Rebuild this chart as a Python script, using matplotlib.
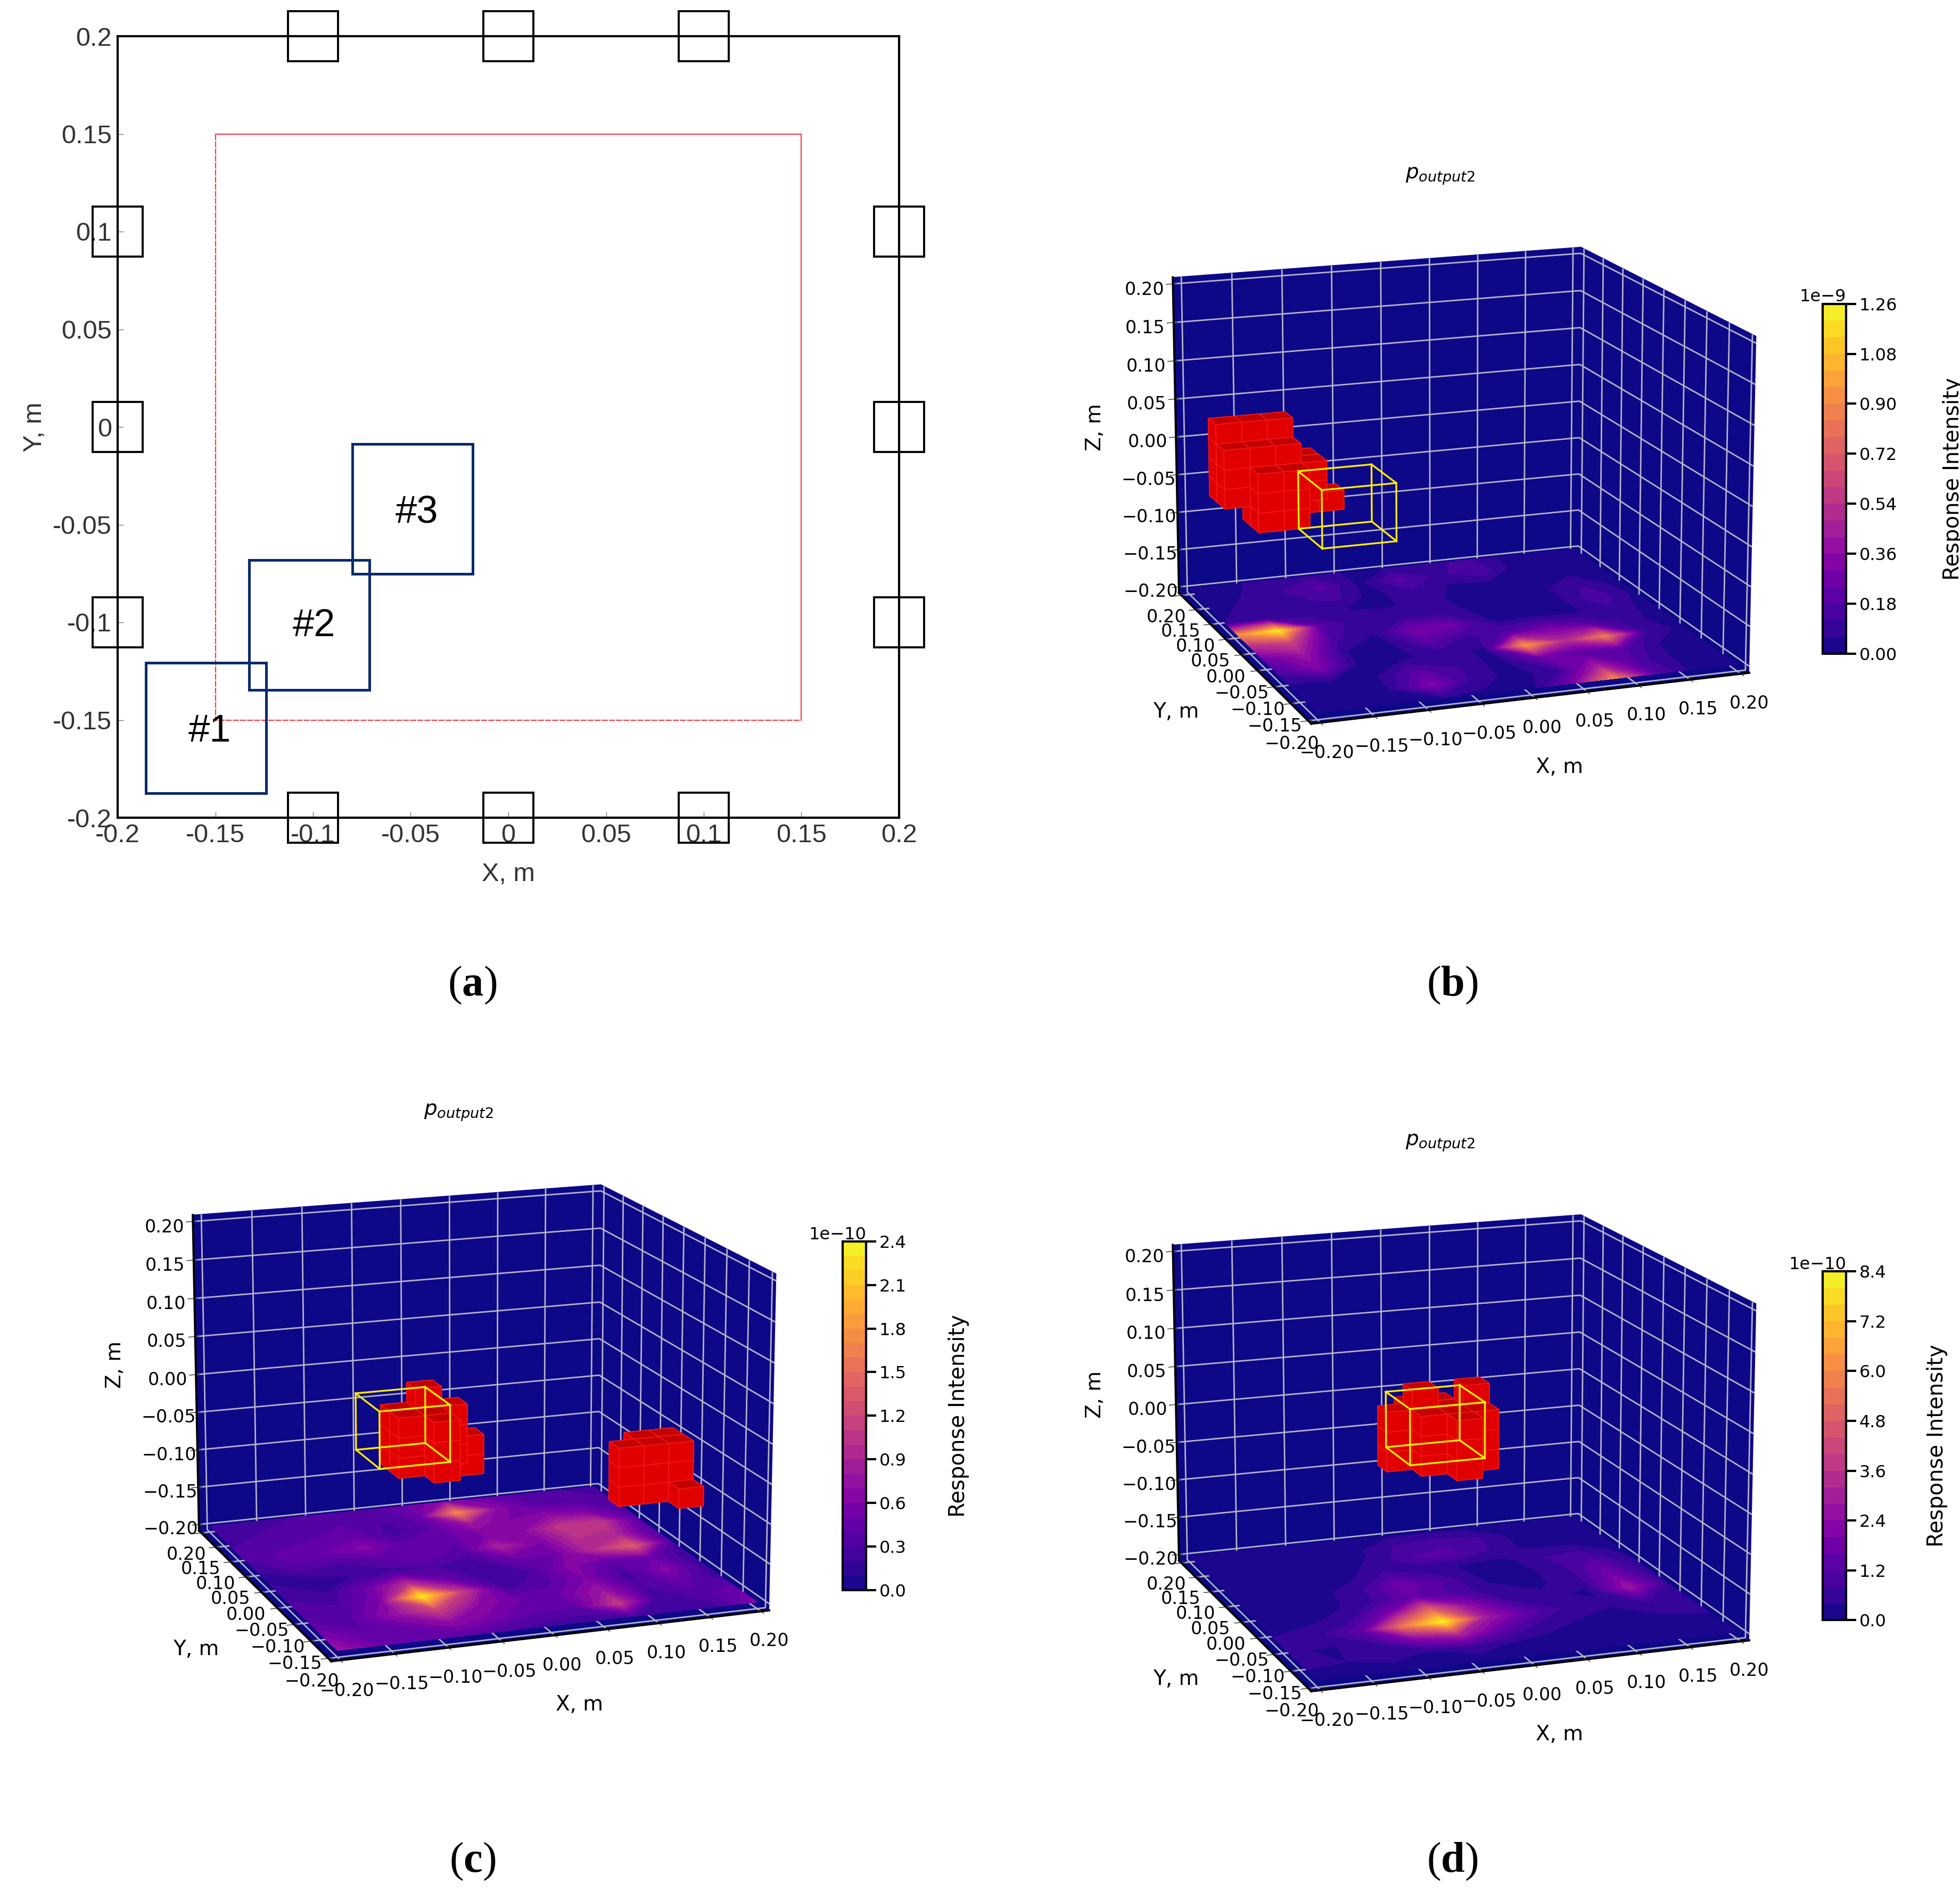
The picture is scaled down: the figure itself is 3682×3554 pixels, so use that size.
import numpy as np
import matplotlib
matplotlib.use('Agg')
import matplotlib.pyplot as plt
from matplotlib.patches import Rectangle
from matplotlib.ticker import ScalarFormatter

W, H = 3682, 3554

# panel (a): plan view
tick_vals = [-0.2, -0.15, -0.1, -0.05, 0, 0.05, 0.1, 0.15, 0.2]
tick_text = ['-0.2', '-0.15', '-0.1', '-0.05', '0', '0.05', '0.1', '0.15', '0.2']
sensor_x = [-0.1, 0, 0.1, -0.1, 0, 0.1, -0.2, -0.2, -0.2, 0.2, 0.2, 0.2]
sensor_y = [0.2, 0.2, 0.2, -0.2, -0.2, -0.2, 0.1, 0, -0.1, 0.1, 0, -0.1]
sensor_half = 0.0129
roi_half = 0.15
target_names = ['#1', '#2', '#3']
target_x = [(-0.1856, -0.124), (-0.1328, -0.0712), (-0.0799, -0.0183)]
target_y = [(-0.1876, -0.1208), (-0.1347, -0.068), (-0.0753, -0.0086)]
target_text_x = [-0.153, -0.0996, -0.0468]
target_text_y = [-0.156, -0.102, -0.044]

# floor maps, row 0 is y=0.2, row 10 is y=-0.2, columns go x=-0.2..0.2
floor_b = [
    [.03, .05, .08, .10, .05, .06, .08, .14, .05, .02, .02],
    [.03, .06, .12, .20, .04, .20, .10, .18, .04, .02, .02],
    [.05, .07, .10, .14, .03, .12, .05, .05, .03, .05, .02],
    [.06, .08, .09, .06, .05, .09, .03, .03, .05, .12, .02],
    [.90, 1.22, .20, .07, .10, .10, .04, .03, .04, .18, .03],
    [.50, .60, .14, .06, .30, .26, .05, .05, .05, .10, .03],
    [.25, .40, .06, .03, .20, .10, .20, .30, .20, .08, .03],
    [.14, .32, .04, .05, .08, .05, .95, .50, .85, .12, .03],
    [.05, .06, .05, .20, .12, .03, .25, .20, .20, .05, .02],
    [.03, .06, .06, .32, .10, .03, .10, .45, .15, .04, .02],
    [.02, .05, .04, .05, .04, .03, .30, .90, .20, .02, .02],
]
floor_c = [
    [.2, .25, .3, .4, .35, .5, .7, .5, .35, .3, .2],
    [.25, .3, .35, .4, .3, .45, 1.7, .7, .4, .35, .3],
    [.3, .35, .4, .45, .25, .4, .8, .6, .7, .6, .3],
    [.3, .45, .5, .65, .4, .45, .6, .7, 1.1, 1.1, .35],
    [.2, .35, .3, .4, .5, .35, .9, .6, 1.0, .9, .3],
    [.2, .15, .2, .25, .3, .25, .5, .5, 1.0, 1.4, .3],
    [.25, .2, .5, 1.0, .45, .2, .3, .65, .4, .5, .2],
    [.4, .3, .6, 2.35, 1.1, .25, .35, .6, .25, .65, .2],
    [.4, .4, .75, 1.2, .7, .5, .5, .8, .3, .45, .25],
    [.6, .4, .5, .7, .55, .4, .4, 1.1, .2, .35, .5],
    [.8, .5, .4, .4, .3, .25, .2, .3, .2, .25, .65],
]
floor_d = [
    [.2, .2, .2, .2, .2, .25, .3, .25, .2, .2, .2],
    [.2, .2, .2, .25, .35, .9, 1.1, .9, .25, .2, .2],
    [.2, .2, .2, .25, .45, 1.2, 1.3, .8, .25, .2, .2],
    [.2, .2, .2, .25, .9, .55, .35, .25, .8, .9, .25],
    [.2, .2, .25, .7, 1.9, 1.2, .35, .25, .6, 1.5, .45],
    [.2, .2, .3, .8, 1.6, 1.1, .45, .35, .5, 2.0, .55],
    [.25, .3, .55, 2.0, 5.0, 2.4, .8, .45, .35, 2.8, .65],
    [.45, .7, 1.4, 5.5, 8.3, 3.0, 1.5, .7, .45, .9, .35],
    [.45, .35, .7, 2.2, 3.2, 1.6, .6, .35, .25, .45, .55],
    [.45, .4, .5, .35, .55, .35, .25, .25, .25, .2, .2],
    [.25, .25, .25, .25, .25, .25, .2, .2, .2, .2, .2],
]

# red voxel stacks: (ix, iy, iz_low, iz_high) on the 0.025 m grid
stacks_b = [(0, 11, 6, 8), (0, 12, 6, 9), (1, 12, 6, 9), (1, 11, 5, 8), (1, 10, 5, 7),
            (2, 11, 5, 8), (2, 12, 6, 9), (2, 10, 5, 7), (3, 12, 6, 7),
            (3, 11, 6, 7), (3, 12, 5, 5), (4, 12, 5, 5)]
stacks_c = [(4, 5, 6, 8), (5, 5, 6, 8), (4, 6, 6, 8), (5, 6, 6, 9), (6, 6, 6, 8),
            (5, 4, 6, 8), (7, 7, 5, 6),
            (13, 6, 3, 5), (14, 6, 3, 5), (15, 6, 3, 5), (14, 7, 4, 5), (15, 7, 4, 5),
            (15, 5, 3, 3)]
stacks_d = [(5, 7, 7, 9), (6, 7, 7, 10), (7, 7, 7, 9), (8, 7, 8, 10), (6, 6, 7, 9),
            (7, 6, 7, 9), (8, 6, 7, 9), (7, 5, 7, 9), (6, 8, 8, 9), (7, 8, 8, 9)]

# yellow wire boxes
box_x = [(-0.19, -0.122), (-0.138, -0.072), (-0.07, 0.002)]
box_y = [(-0.1876, -0.1208), (-0.1347, -0.068), (-0.0753, -0.0086)]
box_z = [(-0.007, 0.063), (-0.012, 0.058), (0.0, 0.07)]

PX = W / 1568.0  # preview coordinates to output pixels

panels = {
    'b': dict(floor=floor_b, stacks=stacks_b, box=0, vmax=1.26, step=0.06, unit=1e-9, cticks=[0, .18, .36, .54, .72, .90, 1.08, 1.26],
              center=(1156, 384), cbar=(1458, 243, 1477, 523), title=(1152, 141), cpad=61),
    'c': dict(floor=floor_c, stacks=stacks_c, box=1, vmax=2.4, step=0.1, unit=1e-10, cticks=[0, .3, .6, .9, 1.2, 1.5, 1.8, 2.1, 2.4],
              center=(372, 1134), cbar=(674, 993, 693, 1272), title=(367, 890), cpad=56),
    'd': dict(floor=floor_d, stacks=stacks_d, box=2, vmax=8.4, step=0.4, unit=1e-10, cticks=[0, 1.2, 2.4, 3.6, 4.8, 6.0, 7.2, 8.4],
              center=(1156, 1158), cbar=(1458, 1017, 1477, 1296), title=(1152, 914), cpad=54),
}
panel_marks = {'a': (378, 788), 'b': (1162, 788), 'c': (378, 1489), 'd': (1162, 1489)}

plt.rcParams['mathtext.fontset'] = 'custom'
plt.rcParams['mathtext.rm'] = 'Liberation Serif'
plt.rcParams['mathtext.bf'] = 'Liberation Serif:bold'
plt.rcParams['mathtext.it'] = 'Liberation Serif:italic'

fig = plt.figure(figsize=(W / 100, H / 100), dpi=100)
blue = plt.get_cmap('plasma')(0.0)


def rect_px(x0, y0, x1, y1):
    return [x0 / W, 1 - y1 / H, (x1 - x0) / W, (y1 - y0) / H]


# panel (a)
ax = fig.add_axes(rect_px(221, 68, 1689, 1536))
ax.set_xlim(-0.2, 0.2)
ax.set_ylim(-0.2, 0.2)
ax.set_xticks(tick_vals, tick_text)
ax.set_yticks(tick_vals, tick_text)
ax.tick_params(direction='in', length=8, width=1, color='#777777', labelsize=35, labelcolor='#333333', pad=8)
for lab in ax.get_xticklabels() + ax.get_yticklabels():
    lab.set_family('Liberation Sans')
for s in ax.spines.values():
    s.set_linewidth(3)
ax.set_xlabel('X, m', fontsize=35, family='Liberation Sans', color='#333333', labelpad=20)
ax.set_ylabel('Y, m', fontsize=35, family='Liberation Sans', color='#333333', labelpad=8)
ax.plot([-roi_half, roi_half, roi_half], [roi_half, roi_half, -roi_half], color='#f04050', lw=1.6)
ax.plot([-roi_half, -roi_half, roi_half], [roi_half, -roi_half, -roi_half], color='#f04050', lw=1.6, dashes=(5, 1))
for sx, sy in zip(sensor_x, sensor_y):
    ax.add_patch(Rectangle((sx - sensor_half, sy - sensor_half), 2 * sensor_half, 2 * sensor_half,
                           fill=False, ec='black', lw=2.8, clip_on=False, zorder=5))
for name, tx, ty, lx, ly in zip(target_names, target_x, target_y, target_text_x, target_text_y):
    ax.add_patch(Rectangle((tx[0], ty[0]), tx[1] - tx[0], ty[1] - ty[0], fill=False, ec='#0b2a6b', lw=3.6, zorder=4))
    ax.text(lx, ly, name, fontsize=52, family='Liberation Sans', ha='center', va='center')

# panels (b), (c), (d)
xs = np.linspace(-0.2, 0.2, 11)
ys = np.linspace(0.2, -0.2, 11)
for key, p in panels.items():
    cx, cy = p['center'][0] * PX, p['center'][1] * PX
    size = 1312
    ax3 = fig.add_axes(rect_px(cx - size / 2, cy - size / 2, cx + size / 2, cy + size / 2),
                       projection='3d', computed_zorder=False)
    ax3.view_init(elev=15, azim=-110)
    ax3.set_box_aspect((4, 4, 3))
    ax3.set_xlim(-0.2083, 0.2083)
    ax3.set_ylim(-0.2083, 0.2083)
    ax3.set_zlim(-0.2083, 0.2083)
    for axis in (ax3.xaxis, ax3.yaxis, ax3.zaxis):
        axis.set_pane_color(blue)
        axis.pane.set_edgecolor(blue)
        axis.line.set_linewidth(3)
        axis._axinfo['grid']['color'] = (0.7, 0.7, 0.78, 1)
        axis._axinfo['grid']['linewidth'] = 2
        axis.set_ticks(np.arange(-0.2, 0.21, 0.05))
    ax3.tick_params(labelsize=24, width=3, length=10)
    ax3.tick_params(axis='x', pad=14)
    ax3.tick_params(axis='y', pad=10)
    ax3.tick_params(axis='z', pad=18)
    ax3.set_xlabel('X, m', fontsize=28, labelpad=50)
    ax3.set_ylabel('Y, m', fontsize=28, labelpad=54)
    ax3.zaxis.set_rotate_label(False)
    ax3.set_zlabel('Z, m', fontsize=28, labelpad=54, rotation=90)

    XX, YY = np.meshgrid(xs, ys)
    vals = np.array(p['floor']) * p['unit']
    levels = np.arange(0, p['vmax'] + p['step'] / 2, p['step']) * p['unit']
    cf = ax3.contourf(XX, YY, vals, levels=levels, cmap='plasma', zdir='z', offset=-0.2, zorder=1)

    vx, vy, vz = [], [], []
    for ix, iy, k0, k1 in p['stacks']:
        for k in range(k0, k1 + 1):
            vx.append(-0.2 + 0.025 * ix)
            vy.append(-0.2 + 0.025 * iy)
            vz.append(-0.2 + 0.025 * k)
    ax3.bar3d(vx, vy, vz, 0.025, 0.025, 0.025, color='#ff0000', edgecolor='#f01818', linewidth=1.2, shade=True, zorder=3)

    x0, x1 = box_x[p['box']]
    y0, y1 = box_y[p['box']]
    z0, z1 = box_z[p['box']]
    for a, b in [((x0, y0), (x1, y0)), ((x1, y0), (x1, y1)), ((x1, y1), (x0, y1)), ((x0, y1), (x0, y0))]:
        for z in (z0, z1):
            ax3.plot([a[0], b[0]], [a[1], b[1]], [z, z], color='#ffee00', lw=2.4, zorder=5)
        ax3.plot([a[0], a[0]], [a[1], a[1]], [z0, z1], color='#ffee00', lw=2.4, zorder=5)

    c0, c1, c2, c3 = p['cbar']
    cax = fig.add_axes(rect_px(c0 * PX, c1 * PX, c2 * PX, c3 * PX))
    cb = fig.colorbar(cf, cax=cax)
    cb.set_ticks(np.array(p['cticks']) * p['unit'])
    fmt = ScalarFormatter(useMathText=False)
    fmt.set_powerlimits((0, 0))
    cb.ax.yaxis.set_major_formatter(fmt)
    cb.ax.tick_params(labelsize=23, width=3, length=14)
    cb.ax.yaxis.get_offset_text().set_fontsize(23)
    cb.outline.set_linewidth(3)
    cb.set_label('Response Intensity', fontsize=29, labelpad=p['cpad'])

    tx, ty = p['title']
    fig.text(tx * PX / W, 1 - ty * PX / H, r'$p_{output2}$', fontsize=28, ha='center', va='center', math_fontfamily='dejavusans')

for name, (mx, my) in panel_marks.items():
    fig.text(mx * PX / W, 1 - my * PX / H, r'($\mathbf{' + name + r'}$)', fontsize=58, family='Liberation Serif',
             ha='center', va='center', math_fontfamily='custom')

fig.savefig('out.png', dpi=100)
